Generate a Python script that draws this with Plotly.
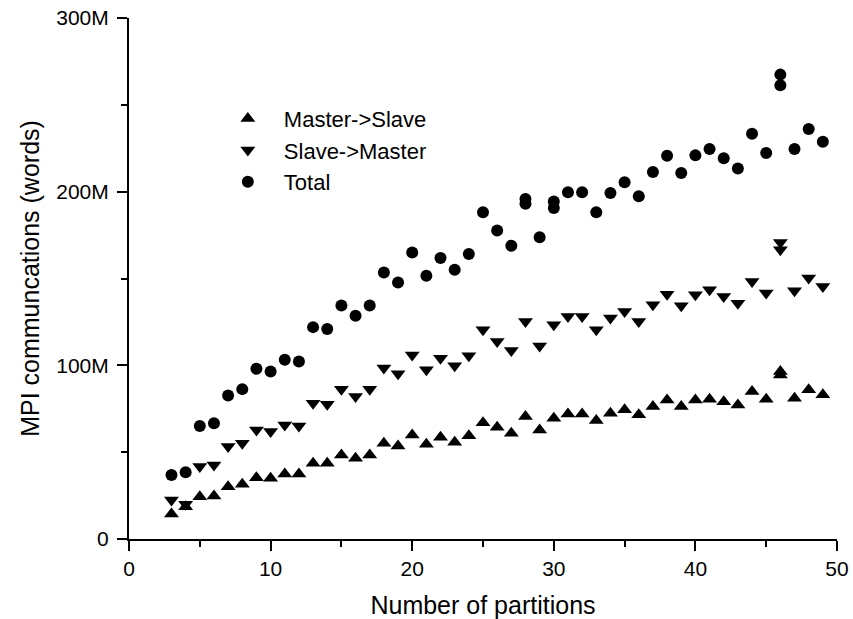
import plotly.graph_objects as go

# Number of partitions (46 appears twice, as do 28 and 30 in the totals)
x_vals = [3, 4, 5, 6, 7, 8, 9, 10, 11, 12, 13, 14, 15, 16, 17, 18, 19, 20, 21, 22,
          23, 24, 25, 26, 27, 28, 29, 30, 31, 32, 33, 34, 35, 36, 37, 38, 39, 40,
          41, 42, 43, 44, 45, 46, 46, 47, 48, 49]

master_to_slave = [14.4, 18.6, 24.4, 24.8, 30.1, 31.5, 35.3, 35.0, 37.5, 37.5, 43.6, 43.6,
                   48.4, 46.5, 48.4, 55.1, 53.6, 59.9, 54.6, 58.6, 55.7, 59.5, 67.0, 64.4,
                   60.9, 70.5, 62.8, 69.6, 72.0, 72.0, 68.2, 72.4, 74.4, 71.5, 76.3, 80.1,
                   76.3, 80.1, 80.5, 79.1, 77.2, 84.9, 80.5, 96.4, 94.5, 81.1, 85.9, 83.0]

slave_to_master = [22.5, 20.0, 41.7, 42.6, 53.2, 55.1, 62.8, 61.9, 65.7, 65.1, 78.2, 77.6,
                   86.3, 82.0, 86.3, 98.4, 95.1, 106.0, 97.4, 104.1, 99.7, 105.5, 120.5, 113.7,
                   108.5, 125.3, 111.2, 123.3, 128.1, 128.1, 120.5, 127.2, 131.0, 125.2, 134.9,
                   141.0, 134.3, 140.6, 143.5, 139.7, 135.8, 148.3, 141.6, 170.8, 166.6, 142.9,
                   150.3, 145.4]

total_x = [3, 4, 5, 6, 7, 8, 9, 10, 11, 12, 13, 14, 15, 16, 17, 18, 19, 20, 21, 22,
           23, 24, 25, 26, 27, 28, 28, 29, 30, 30, 31, 32, 33, 34, 35, 36, 37, 38, 39, 40,
           41, 42, 43, 44, 45, 46, 46, 47, 48, 49]
total = [36.9, 38.4, 65.1, 66.7, 82.6, 86.3, 98.0, 96.4, 103.2, 102.2, 122.0, 120.9,
         134.5, 128.5, 134.5, 153.5, 147.7, 165.0, 151.6, 161.8, 155.0, 164.1, 188.1,
         177.7, 168.9, 195.8, 193.1, 173.7, 194.4, 190.6, 199.6, 199.6, 188.1, 199.2,
         205.4, 197.3, 211.3, 220.7, 210.8, 220.9, 224.6, 219.2, 213.4, 233.3, 222.3,
         267.4, 261.3, 224.6, 236.1, 228.8]

y_tick_vals = [0, 100e6, 200e6, 300e6]
y_tick_text = ["0", "100M", "200M", "300M"]
x_tick_vals = [0, 10, 20, 30, 40, 50]

M = 1e6
fig = go.Figure()
fig.add_trace(go.Scatter(x=x_vals, y=[v * M for v in master_to_slave], mode="markers",
                         name="Master->Slave",
                         marker=dict(symbol="triangle-up", size=13, color="black")))
fig.add_trace(go.Scatter(x=x_vals, y=[v * M for v in slave_to_master], mode="markers",
                         name="Slave->Master",
                         marker=dict(symbol="triangle-down", size=13, color="black")))
fig.add_trace(go.Scatter(x=total_x, y=[v * M for v in total], mode="markers",
                         name="Total",
                         marker=dict(symbol="circle", size=12, color="black")))

font_family = "Liberation Sans, Arial, sans-serif"
fig.update_layout(
    width=853, height=619,
    margin=dict(l=129, r=16, t=18, b=80, autoexpand=False),
    plot_bgcolor="white", paper_bgcolor="white",
    font=dict(family=font_family, color="black", size=21),
    showlegend=True,
    legend=dict(x=0.117, y=0.847, xanchor="left", yanchor="top",
                font=dict(size=22, color="black"), bgcolor="rgba(0,0,0,0)",
                itemwidth=62),
    xaxis=dict(range=[0, 50], tickvals=x_tick_vals, showgrid=False, zeroline=False,
               showline=True, linecolor="black", linewidth=2, automargin=False,
               ticks="outside", ticklen=10, tickwidth=2, tickcolor="black",
               minor=dict(tickvals=[5, 15, 25, 35, 45], ticks="outside", ticklen=6,
                          tickwidth=2, tickcolor="black"),
               tickfont=dict(size=21), ticklabelstandoff=0,
               title=dict(text="Number of partitions", font=dict(size=25), standoff=18)),
    yaxis=dict(range=[0, 300e6], tickvals=y_tick_vals, ticktext=y_tick_text,
               showgrid=False, zeroline=False, automargin=False,
               showline=True, linecolor="black", linewidth=2,
               ticks="outside", ticklen=10, tickwidth=2, tickcolor="black",
               minor=dict(tickvals=[50e6, 150e6, 250e6], ticks="outside", ticklen=6,
                          tickwidth=2, tickcolor="black"),
               tickfont=dict(size=21), ticklabelstandoff=4,
               title=dict(text="MPI communcations (words)", font=dict(size=25), standoff=10)),
)

fig.write_html("out.html")
